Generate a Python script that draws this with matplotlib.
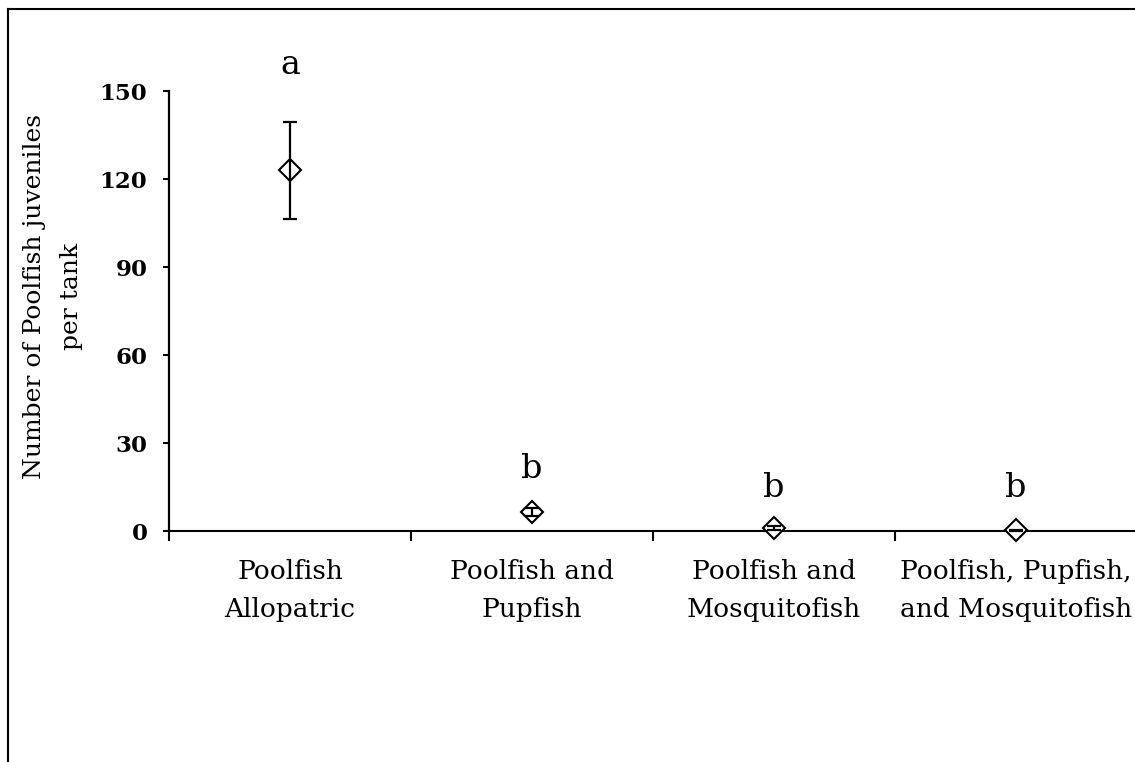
import numpy as np
import matplotlib.pyplot as plt
from matplotlib.lines import Line2D

# treatment groups and mean juveniles per tank
groups = ['Poolfish\nAllopatric', 'Poolfish and\nPupfish',
          'Poolfish and\nMosquitofish', 'Poolfish, Pupfish,\nand Mosquitofish']
means = [123.0, 6.5, 1.0, 0.2]
errs = [16.5, 1.5, 0.6, 0.2]
letters = ['a', 'b', 'b', 'b']
letter_y = [159, 21, 14.5, 14.5]

plt.rcParams['font.family'] = ['DejaVu Serif']

fig = plt.figure(figsize=(11.35, 7.62), dpi=100)
ax = fig.add_axes([169/1135, 1-531/762, 968/1135, 440/762])

x = np.arange(len(groups))
# markers first, error bars drawn on top (as in the original)
ax.plot(x, means, 'D', ms=11, mfc='white', mec='black', mew=1.5, clip_on=False, zorder=3)
ax.errorbar(x, means, yerr=errs, fmt='none', ecolor='black', elinewidth=1.6,
            capsize=4.7, capthick=1.6, clip_on=False, zorder=4)

for xi, lab, ly in zip(x, letters, letter_y):
    ax.text(xi, ly, lab, ha='center', va='center', fontsize=24, clip_on=False)

ax.set_xlim(-0.5, len(groups)-0.5)
ax.set_ylim(0, 150)
ax.set_yticks([0, 30, 60, 90, 120, 150])
ax.set_yticklabels(['0', '30', '60', '90', '120', '150'], fontweight='bold', fontsize=16.5)
ax.set_xticks(np.arange(len(groups)+1)-0.5)
ax.set_xticklabels([])
ax.set_xticks(x, minor=True)
ax.set_xticklabels(groups, minor=True, fontsize=19, linespacing=1.68)
ax.tick_params(axis='x', which='minor', length=0, pad=20)
ax.tick_params(axis='x', which='major', length=7, width=1.5, direction='out')
ax.tick_params(axis='y', length=4.5, width=1.5, pad=11)

for s in ['top', 'right']:
    ax.spines[s].set_visible(False)
ax.spines['left'].set_linewidth(1.6)
ax.spines['bottom'].set_linewidth(1.5)
ax.spines['left'].set_bounds(0, 150)

fig.text(53/1135, 1-296/762, 'Number of Poolfish juveniles\nper tank', rotation=90,
         ha='center', va='center', fontsize=18, linespacing=1.8)

# outer frame
fig.add_artist(Line2D([8/1135, 8/1135], [0, 1-9/762], color='black', lw=1.5))
fig.add_artist(Line2D([8/1135, 1], [1-9/762, 1-9/762], color='black', lw=1.5))

fig.savefig('out.png', dpi=100)
